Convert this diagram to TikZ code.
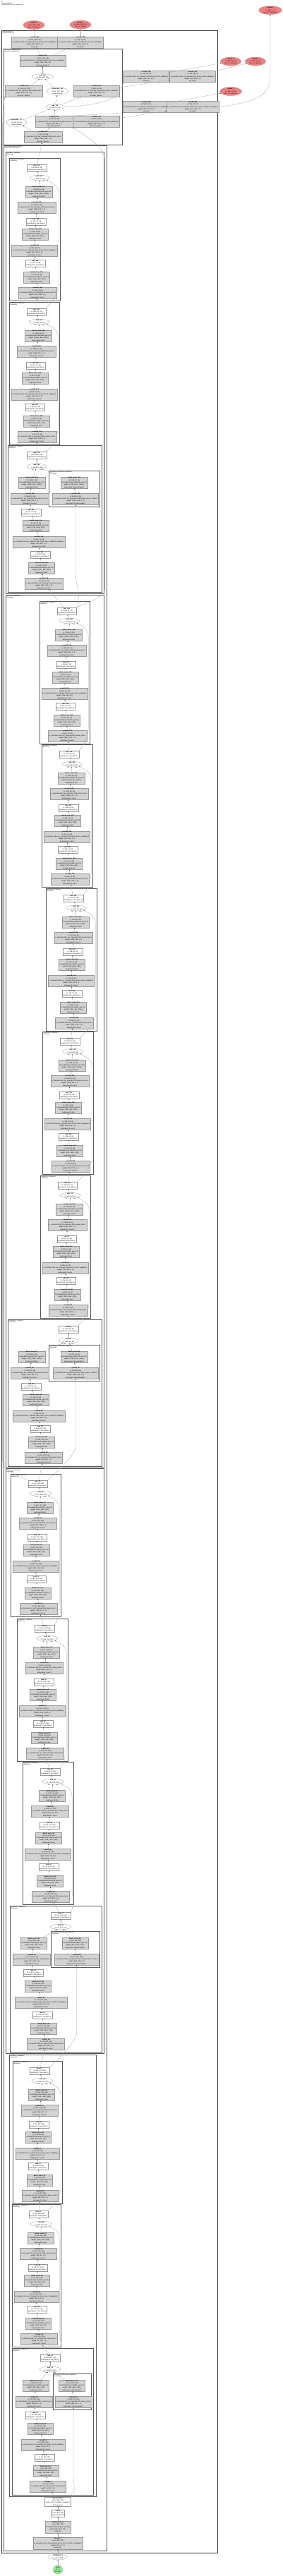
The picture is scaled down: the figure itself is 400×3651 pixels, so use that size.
\documentclass[tikz,border=0pt]{standalone}
\usepackage{fontspec}
\setmainfont{Liberation Sans}
\usetikzlibrary{arrows.meta,shapes.geometric}

\definecolor{opgray}{HTML}{D3D3D3}
\definecolor{outred}{HTML}{F08080}
\definecolor{ingreen}{HTML}{90EE90}

%% running number for every op in the graph
\newcounter{opid}
\newcommand{\opn}[1]{\stepcounter{opid}\textbf{#1\_\theopid}}
%% node texts: conv, batchnorm, relu, add
\newcommand{\convtext}[6]{\opn{conv2d}\\(1, #2, #3, #3)\\in\_channels=#1, out\_channels=#2, kernel\_size=#4#5\\weight: (#2, #1, #4, #4)\\#6}
\newcommand{\bntext}[3]{\opn{batch\_norm}\\(1, #1, #2, #2)\\FrozenBatchNorm2d(#1, eps=0.0)\\weight: (#1,), bias: (#1,)\\#3}
\newcommand{\relutext}[3]{\opn{relu}\\(1, #1, #2, #2)\\#3 (ReLU)}
\newcommand{\addtext}[2]{\opn{add}\\(1, #1, #2, #2)}

%% channels and sizes of one resnet stage
\newcommand{\setlayer}[1]{%
  \ifcase#1\or
    \def\cin{64}\def\cmid{64}\def\cout{256}\def\cszin{200}\def\csz{200}\def\cstr{, padding=1}\def\cdsstr{}%
  \or
    \def\cin{256}\def\cmid{128}\def\cout{512}\def\cszin{200}\def\csz{100}\def\cstr{, stride=2, padding=1}\def\cdsstr{, stride=2}%
  \or
    \def\cin{512}\def\cmid{256}\def\cout{1024}\def\cszin{100}\def\csz{50}\def\cstr{, stride=2, padding=1}\def\cdsstr{, stride=2}%
  \or
    \def\cin{1024}\def\cmid{512}\def\cout{2048}\def\cszin{50}\def\csz{25}\def\cstr{, stride=2, padding=1}\def\cdsstr{, stride=2}%
  \fi}

\tikzset{
  nodetext/.style={font=\fontsize{2.2}{3.3}\selectfont, align=center},
  opbox/.style={nodetext, rectangle, draw=black!40, fill=opgray, line width=0.3pt, inner xsep=1.2pt, inner ysep=0.5pt},
  actbox/.style={nodetext, rectangle, draw=black!40, fill=white, line width=0.3pt, inner xsep=1.2pt, inner ysep=0.4pt},
  opell/.style={nodetext, ellipse, draw=black!40, fill=white, line width=0.3pt, inner xsep=2pt, inner ysep=0pt},
  outell/.style={opell, fill=outred},
  inell/.style={opell, fill=ingreen, inner xsep=0pt},
  cluster/.style={draw=black!65, line width=0.6pt},
  clusterlabel/.style={font=\fontsize{1.8}{2.1}\selectfont, align=left, anchor=north west, inner sep=0.3pt},
  edgelabel/.style={font=\fontsize{1.6}{1.8}\selectfont, inner sep=0.3pt},
  flow/.style={draw=black!35, line width=0.3pt, -{Stealth[length=1.6pt,width=1.3pt,color=black!75]}},
}

%% bottleneck without downsample: id, module, top, left, right, input node
\newcommand{\plainblock}[6]{%
  \pgfmathsetmacro\bcx{(#4+#5)/2}%
  \draw[cluster] (#4,#3) rectangle (#5,#3+202);
  \node[clusterlabel] (#1lab) at (#4+1,#3+1) {body.#2: Bottleneck\\(Bottleneck)};
  \node[opbox] (#1c1) at (\bcx+4,#3+191) {\convtext{\cout}{\cmid}{\csz}{1}{}{body.#2.conv1}};
  \node[opbox] (#1b1) at (\bcx+3,#3+169) {\bntext{\cmid}{\csz}{body.#2.bn1}};
  \node[actbox] (#1r1) at (\bcx+1,#3+149) {\relutext{\cmid}{\csz}{body.#2.relu}};
  \node[opbox] (#1c2) at (\bcx,#3+131) {\convtext{\cmid}{\cmid}{\csz}{3}{, padding=1}{body.#2.conv2}};
  \node[opbox] (#1b2) at (\bcx+1,#3+108) {\bntext{\cmid}{\csz}{body.#2.bn2}};
  \node[actbox] (#1r2) at (\bcx+2,#3+90) {\relutext{\cmid}{\csz}{body.#2.relu}};
  \node[opbox] (#1c3) at (\bcx+3,#3+70) {\convtext{\cmid}{\cout}{\csz}{1}{}{body.#2.conv3}};
  \node[opbox] (#1b3) at (\bcx+6,#3+48) {\bntext{\cout}{\csz}{body.#2.bn3}};
  \node[opell, label={[edgelabel]below left:self}, label={[edgelabel]below right:other}] (#1add) at (\bcx+7,#3+28) {\addtext{\cout}{\csz}};
  \node[actbox] (#1out) at (\bcx+3,#3+14) {\relutext{\cout}{\csz}{body.#2.relu}};
  \draw[flow] (#6) -- (#1c1);
  \draw[flow] (#1c1) -- (#1b1);
  \draw[flow] (#1b1) -- (#1r1);
  \draw[flow] (#1r1) -- (#1c2);
  \draw[flow] (#1c2) -- (#1b2);
  \draw[flow] (#1b2) -- (#1r2);
  \draw[flow] (#1r2) -- (#1c3);
  \draw[flow] (#1c3) -- (#1b3);
  \draw[flow] (#1b3) -- (#1add);
  \draw[flow] (#1add) -- (#1out);
  \draw[flow] (#6.north east) .. controls +(6,-6) and +(0,12) .. (#5-1.8,#3+180) -- (#5-1.8,#3+50) .. controls +(0,-12) and +(6,4) .. (#1add.south east);
}

%% bottleneck with downsample: id, module, top, left, right, input node, x of add/relu
\newcommand{\dsblock}[7]{%
  \pgfmathsetmacro\dsx{(#4+#5)/2+27.5}%
  \draw[cluster] (#4,#3) rectangle (#5,#3+208);
  \node[clusterlabel] (#1lab) at (#4+1,#3+1) {body.#2: Bottleneck\\(Bottleneck)};
  \draw[cluster] (#4+58,#3+36) rectangle (#5-3,#3+87);
  \node[clusterlabel] (#1dslab) at (#4+59,#3+37) {body.#2.downsample: Sequential\\(Sequential)};
  \node[opbox] (#1c1) at (#4+51,#3+196) {\convtext{\cin}{\cmid}{\cszin}{1}{}{body.#2.conv1}};
  \node[opbox] (#1b1) at (#4+48,#3+174) {\bntext{\cmid}{\cszin}{body.#2.bn1}};
  \node[actbox] (#1r1) at (#4+46,#3+155) {\relutext{\cmid}{\cszin}{body.#2.relu}};
  \node[opbox] (#1c2) at (#4+44,#3+137) {\convtext{\cmid}{\cmid}{\csz}{3}{\cstr}{body.#2.conv2}};
  \node[opbox] (#1b2) at (#4+40,#3+114) {\bntext{\cmid}{\csz}{body.#2.bn2}};
  \node[actbox] (#1r2) at (#4+33,#3+95) {\relutext{\cmid}{\csz}{body.#2.relu}};
  \node[opbox] (#1c3) at (#4+31,#3+76) {\convtext{\cmid}{\cout}{\csz}{1}{}{body.#2.conv3}};
  \node[opbox] (#1b3) at (#4+34,#3+53) {\bntext{\cout}{\csz}{body.#2.bn3}};
  \node[opell, label={[edgelabel]below left:self}, label={[edgelabel]below right:other}] (#1add) at (#7,#3+30) {\addtext{\cout}{\csz}};
  \node[actbox] (#1out) at (#7,#3+14) {\relutext{\cout}{\csz}{body.#2.relu}};
  \node[opbox] (#1dc) at (\dsx+2,#3+76) {\convtext{\cin}{\cout}{\csz}{1}{\cdsstr}{body.#2.downsample.0}};
  \node[opbox] (#1db) at (\dsx,#3+53) {\bntext{\cout}{\csz}{body.#2.downsample.1}};
  \draw[flow] (#6) -- (#1c1);
  \draw[flow] (#1c1) -- (#1b1);
  \draw[flow] (#1b1) -- (#1r1);
  \draw[flow] (#1r1) -- (#1c2);
  \draw[flow] (#1c2) -- (#1b2);
  \draw[flow] (#1b2) -- (#1r2);
  \draw[flow] (#1r2) -- (#1c3);
  \draw[flow] (#1c3) -- (#1b3);
  \draw[flow] (#1b3) -- (#1add);
  \draw[flow] (#1add) -- (#1out);
  \draw[flow] (#6.north east) .. controls +(8,-8) and +(0,14) .. (\dsx+2,#3+180) -- (#1dc);
  \draw[flow] (#1dc) -- (#1db);
  \draw[flow] (#1db) -- (#1add);
}

\begin{document}
\begin{tikzpicture}[x=1pt,y=-1pt]
\useasboundingbox (0,0) rectangle (400,3651);

\node[clusterlabel] (header) at (1.5,1.5) {\textbf{G}\\BackboneWithFPN\\resnet50 body, FPN out\_channels=256};

%% clusters
\draw[cluster, line width=0.9pt, draw=black!80] (2,43) rectangle (308,3618);
\node[clusterlabel] (toplab) at (3,44) {BackboneWithFPN\\(BackboneWithFPN)};
\draw[cluster] (5,69) rectangle (173,205);
\node[clusterlabel] (fpnlab) at (6,70) {fpn: FeaturePyramidNetwork\\(FeaturePyramidNetwork)};
\draw[cluster] (5,206) rectangle (151,3615);
\node[clusterlabel] (bodylab) at (6,207) {body: IntermediateLayerGetter\\(IntermediateLayerGetter)};
\draw[cluster] (8,215) rectangle (147,841);
\node[clusterlabel] (lay4lab) at (9,216) {body.layer4: Sequential\\(Sequential)};
\draw[cluster] (8,843) rectangle (147,2080);
\node[clusterlabel] (lay3lab) at (9,844) {body.layer3: Sequential\\(Sequential)};
\draw[cluster] (8,2081.5) rectangle (147,2910.5);
\node[clusterlabel] (lay2lab) at (9,2082.5) {body.layer2: Sequential\\(Sequential)};
\draw[cluster] (13,2912) rectangle (136,3538);
\node[clusterlabel] (lay1lab) at (14,2913) {body.layer1: Sequential\\(Sequential)};

%% input and stem
\node[inell] (inp) at (82,3642) {\textbf{input}\\(1, 3,\\800, 800)};
\node[opell] (img) at (82,3624) {\opn{contiguous}\\(1, 3, 800, 800)};
\node[opbox] (sconv) at (82,3604.5) {\convtext{3}{64}{400}{7}{, stride=2, padding=3}{body.conv1}};
\node[opbox] (sbn) at (82,3581.5) {\bntext{64}{400}{body.bn1}};
\node[actbox] (srelu) at (82,3562) {\relutext{64}{400}{body.relu}};
\node[actbox] (mp) at (82,3545.5) {\opn{max\_pool2d}\\(1, 64, 200, 200)\\kernel\_size=3, stride=2, padding=1\\body.maxpool};
\draw[flow] (inp) -- (img);
\draw[flow] (img) -- (sconv);
\draw[flow] (sconv) -- (sbn);
\draw[flow] (sbn) -- (srelu);
\draw[flow] (srelu) -- (mp);

%% layer1
\setlayer{1}
\dsblock{l1b0}{layer1.0}{3328}{17}{132}{mp}{71}
\plainblock{l1b1}{layer1.1}{3124}{17}{86}{l1b0out}
\plainblock{l1b2}{layer1.2}{2921}{18}{88}{l1b1out}
%% layer2
\setlayer{2}
\dsblock{l2b0}{layer2.0}{2701}{14}{144}{l1b2out}{86}
\plainblock{l2b1}{layer2.1}{2497}{32}{104}{l2b0out}
\plainblock{l2b2}{layer2.2}{2294}{24}{96}{l2b1out}
\plainblock{l2b3}{layer2.3}{2089}{15}{86}{l2b2out}
%% layer3
\setlayer{3}
\dsblock{l3b0}{layer3.0}{1870}{11}{144}{l2b3out}{97}
\plainblock{l3b1}{layer3.1}{1666}{57}{128}{l3b0out}
\plainblock{l3b2}{layer3.2}{1462}{60}{132}{l3b1out}
\plainblock{l3b3}{layer3.3}{1259}{65}{137}{l3b2out}
\plainblock{l3b4}{layer3.4}{1055}{59}{131}{l3b3out}
\plainblock{l3b5}{layer3.5}{852}{56}{127}{l3b4out}
%% layer4
\setlayer{4}
\dsblock{l4b0}{layer4.0}{631}{11}{144}{l3b5out}{52}
\plainblock{l4b1}{layer4.1}{428}{13}{84}{l4b0out}
\plainblock{l4b2}{layer4.2}{224}{13}{85}{l4b1out}

%% fpn
\node[opbox] (f10) at (61,194) {\convtext{2048}{256}{25}{1}{}{fpn.inner\_blocks.2}};
\node[opbox] (f8) at (76.5,172.5) {\convtext{256}{256}{25}{1}{}{fpn.layer\_blocks.2}};
\node[opbox] (f9) at (136.5,172.5) {\convtext{1024}{256}{50}{3}{, padding=1}{fpn.inner\_blocks.1}};
\node[opell] (f7) at (23.5,173.5) {\opn{interpolate}\\(1, 256, 50, 50)\\mode=nearest};
\node[opell] (f6) at (78,151.5) {\addtext{256}{50}};
\node[opbox] (f3) at (34,129) {\convtext{512}{256}{100}{1}{}{fpn.inner\_blocks.0}};
\node[opell] (f4) at (81.5,129.5) {\opn{interpolate}\\(1, 256, 100, 100)\\mode=nearest};
\node[opbox] (f5) at (136.5,129) {\convtext{256}{256}{50}{3}{, padding=1}{fpn.layer\_blocks.1}};
\node[opell] (f2) at (60.5,108.5) {\addtext{256}{100}};
\node[opbox] (f1) at (60.5,86) {\convtext{256}{256}{100}{3}{, padding=1}{fpn.layer\_blocks.0}};

%% heads and outputs
\node[opbox] (t1) at (49,60) {\convtext{256}{256}{100}{3}{, padding=1}{out\_proj.0}};
\node[opbox] (t2) at (114,60) {\convtext{256}{256}{50}{3}{, padding=1}{out\_proj.1}};
\node[opbox] (a) at (207,108.5) {\convtext{256}{256}{50}{3}{, padding=1}{out\_proj.2}};
\node[opbox] (b) at (273,108.5) {\convtext{256}{256}{25}{3}{, padding=1}{out\_proj.3}};
\node[opbox] (c) at (207,151.5) {\convtext{256}{256}{25}{3}{, padding=1}{out\_proj.4}};
\node[opbox] (d) at (273,151.5) {\convtext{256}{256}{13}{3}{, stride=2, padding=1}{out\_proj.5}};
\node[outell] (o0) at (48,35.5) {\textbf{output\_0}\\(1, 256, 200, 200)\\key: '0', stride 4};
\node[outell] (o1) at (114,35) {\textbf{output\_1}\\(1, 256, 100, 100)\\key: '1', stride 8};
\node[outell] (o2) at (327,87) {\textbf{output\_2}\\(1, 256, 50, 50)\\key: '2', stride 16};
\node[outell] (o3) at (362,87) {\textbf{output\_3}\\(1, 256, 25, 25)\\key: '3', stride 32};
\node[outell] (o4) at (327,129.5) {\textbf{output\_4}\\(1, 256, 13, 13)\\key: 'p6', stride 64};
\node[outell] (o5) at (383,14.5) {\textbf{output\_5}\\(1, 256, 7, 7)\\key: 'p7', stride 128};

%% connectors of the fpn
\draw[flow] (l4b2out) -- (f10);
\draw[flow] (l3b5out.north east) .. controls +(12,-6) and +(0,12) .. (148.6,835) -- (148.6,228) .. controls +(0,-22) and +(14,10) .. (f9.south west);
\draw[flow] (l2b3out.north west) .. controls +(-12,-6) and +(0,12) .. (3.6,2072) -- (3.6,185) .. controls +(0,-25) and +(-3,10) .. (f3.south west);
\draw[flow] (f10) -- (f7);
\draw[flow] (f10) -- (f8);
\draw[flow] (f7) -- (f6);
\draw[flow] (f8) -- (f6);
\draw[flow] (f8.north east) -- (c.south west);
\draw[flow] (f9) -- (d);
\draw[flow] (f6) -- (f4);
\draw[flow] (f6) -- (f5);
\draw[flow] (f6.east) .. controls (140,149) and (172,142) .. (a.south west);
\draw[flow] (f5) -- (b);
\draw[flow] (f4) -- (f2);
\draw[flow] (f3) -- (f2);
\draw[flow] (f2) -- (f1);
\draw[flow] (f1) -- (t1);
\draw[flow] (f1) -- (t2);
\draw[flow] (t1) -- (o0);
\draw[flow] (t2) -- (o1);
\draw[flow] (a) -- (o2);
\draw[flow] (b) -- (o3);
\draw[flow] (c) -- (o4);
\draw[flow] (d.east) .. controls (350,146) and (383,140) .. (383,110) -- (o5);
\end{tikzpicture}
\end{document}
